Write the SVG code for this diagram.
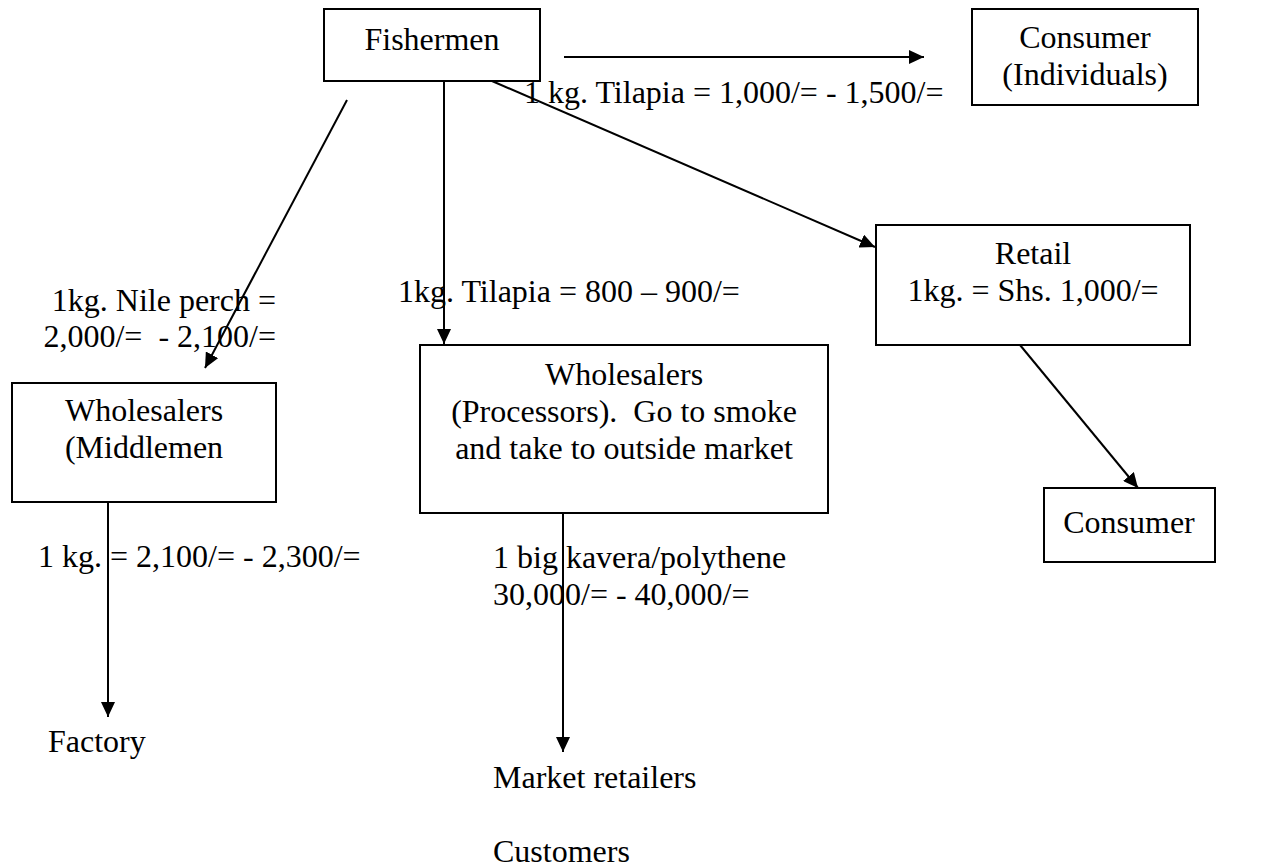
<svg xmlns="http://www.w3.org/2000/svg" width="1267" height="867" viewBox="0 0 1267 867">
  <style>
    .box { fill: #ffffff; stroke: #000000; stroke-width: 2; }
    .lbl { font-family: "Liberation Serif", "Times New Roman", serif; font-size: 32px; fill: #000000; white-space: pre; }
    .mid { text-anchor: middle; }
    .end { text-anchor: end; }
    .edge { stroke: #000000; stroke-width: 2; fill: none; marker-end: url(#arrow); }
  </style>
  <defs>
    <marker id="arrow" markerUnits="userSpaceOnUse" markerWidth="16" markerHeight="14" refX="15" refY="7" orient="auto">
      <path d="M0,0 L15,7 L0,14 z" fill="#000000"/>
    </marker>
  </defs>
  <rect width="1267" height="867" fill="#ffffff"/>

  <!-- connectors -->
  <g id="connectors">
    <line class="edge" x1="564" y1="57" x2="924" y2="57"/>
    <line class="edge" x1="492" y1="81" x2="875" y2="247"/>
    <line class="edge" x1="444" y1="81" x2="444" y2="344"/>
    <line class="edge" x1="347" y1="100" x2="205" y2="368"/>
    <line class="edge" x1="1020" y1="345" x2="1138" y2="488"/>
    <line class="edge" x1="108" y1="502" x2="108" y2="717"/>
    <line class="edge" x1="563" y1="513" x2="563" y2="752"/>
  </g>

  <!-- connector labels -->
  <g id="edge-labels">
    <text class="lbl" x="524" y="103">1 kg. Tilapia = 1,000/= - 1,500/=</text>
    <text class="lbl end" x="276" y="311">1kg. Nile perch =</text>
    <text class="lbl end" x="276" y="347">2,000/=  - 2,100/=</text>
    <text class="lbl" x="398" y="302">1kg. Tilapia = 800 – 900/=</text>
    <text class="lbl" x="38" y="567">1 kg. = 2,100/= - 2,300/=</text>
    <text class="lbl" x="493" y="568">1 big kavera/polythene</text>
    <text class="lbl" x="493" y="605">30,000/= - 40,000/=</text>
  </g>

  <!-- nodes -->
  <g id="fishermen">
    <rect class="box" x="324" y="9" width="216" height="72"/>
    <text class="lbl mid" x="432" y="50">Fishermen</text>
  </g>
  <g id="consumer-individuals">
    <rect class="box" x="972" y="9" width="226" height="96"/>
    <text class="lbl mid" x="1085" y="48">Consumer</text>
    <text class="lbl mid" x="1085" y="85">(Individuals)</text>
  </g>
  <g id="retail">
    <rect class="box" x="876" y="225" width="314" height="120"/>
    <text class="lbl mid" x="1033" y="264">Retail</text>
    <text class="lbl mid" x="1033" y="301">1kg. = Shs. 1,000/=</text>
  </g>
  <g id="consumer">
    <rect class="box" x="1044" y="488" width="171" height="74"/>
    <text class="lbl mid" x="1129" y="533">Consumer</text>
  </g>
  <g id="wholesalers-middlemen">
    <rect class="box" x="12" y="383" width="264" height="119"/>
    <text class="lbl mid" x="144" y="421">Wholesalers</text>
    <text class="lbl mid" x="144" y="458">(Middlemen</text>
  </g>
  <g id="wholesalers-processors">
    <rect class="box" x="420" y="345" width="408" height="168"/>
    <text class="lbl mid" x="624" y="385">Wholesalers</text>
    <text class="lbl mid" x="624" y="422">(Processors).  Go to smoke</text>
    <text class="lbl mid" x="624" y="459">and take to outside market</text>
  </g>
  <g id="factory">
    <text class="lbl" x="48" y="752">Factory</text>
  </g>
  <g id="market-retailers">
    <text class="lbl" x="493" y="788">Market retailers</text>
  </g>
  <g id="customers">
    <text class="lbl" x="493" y="862">Customers</text>
  </g>
</svg>
